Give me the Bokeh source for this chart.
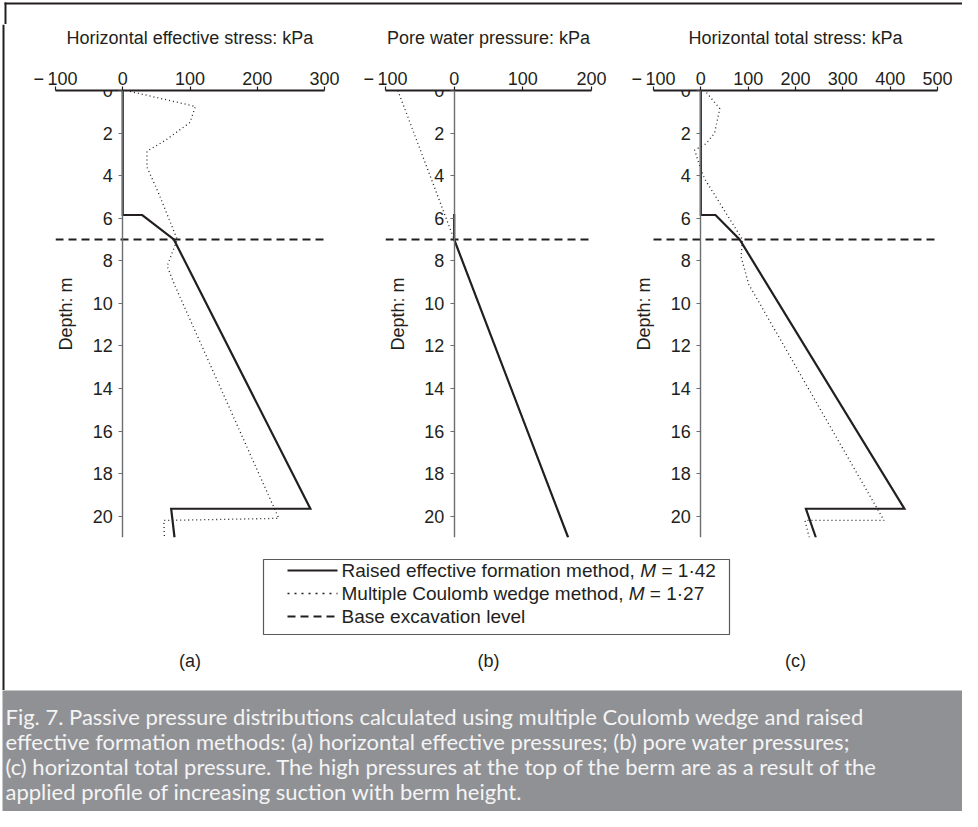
from bokeh.plotting import figure
from bokeh.models import Range1d, FixedTicker
from bokeh.layouts import row, column
from bokeh.core.properties import value
from bokeh.embed import file_html
from bokeh.resources import INLINE

INK = "#231f20"
AXIS_GREY = "#6d6e71"
LEG_GREY = "#58595b"
CAPTION_BG = "#909195"
CAPTION_INK = "#f4f4f4"
FONT = "Liberation Sans"
CAP_FONT = "Lato"

# ---------------- data ----------------
depth_ticks = [0, 2, 4, 6, 8, 10, 12, 14, 16, 18, 20]
depth_labels = ["0", "2", "4", "6", "8", "10", "12", "14", "16", "18", "20"]
depth_max = 21
excavation_depth = 7.0

a_title = "Horizontal effective stress: kPa"
a_xticks = [-100, 0, 100, 200, 300]
a_xlabels = ["\u2212\u2009100", "0", "100", "200", "300"]
a_raised_x = [0, 0, 29, 76, 279, 72, 77]
a_raised_depth = [0, 5.85, 5.85, 7.0, 19.65, 19.65, 21.0]
a_mcw_x = [5, 108, 100, 63, 36, 36, 53, 81, 66, 78, 232, 61, 62]
a_mcw_depth = [0.0, 0.75, 1.5, 2.35, 2.85, 3.6, 4.8, 7.0, 8.25, 9.2, 20.1, 20.2, 21.0]

b_title = "Pore water pressure: kPa"
b_xticks = [-100, 0, 100, 200]
b_xlabels = ["\u2212\u2009100", "0", "100", "200"]
b_raised_x = [0, 0, 166]
b_raised_depth = [5.8, 7.0, 21.0]
b_mcw_x = [-82, 0, 166]
b_mcw_depth = [0.0, 7.0, 21.0]

c_title = "Horizontal total stress: kPa"
c_xticks = [-100, 0, 100, 200, 300, 400, 500]
c_xlabels = ["\u2212\u2009100", "0", "100", "200", "300", "400", "500"]
c_raised_x = [0, 0, 31, 82, 430, 222, 243]
c_raised_depth = [0, 5.85, 5.85, 7.0, 19.65, 19.65, 21.0]
c_mcw_x = [12, 40, 29, 11, -13, -3, 8, 88, 85, 101, 387, 220, 229]
c_mcw_depth = [0.1, 0.85, 2.0, 2.5, 2.8, 3.5, 4.15, 7.0, 7.8, 9.1, 20.2, 20.2, 21.0]

panel_tags = ["(a)", "(b)", "(c)"]
legend_parts = [
    ("Raised effective formation method,", "M", "= 1\u00b742"),
    ("Multiple Coulomb wedge method,", "M", "= 1\u00b727"),
    ("Base excavation level", "", ""),
]
caption_lines = [
    "Fig. 7. Passive pressure distributions calculated using multiple Coulomb wedge and raised",
    "effective formation methods: (a) horizontal effective pressures; (b) pore water pressures;",
    "(c) horizontal total pressure. The high pressures at the top of the berm are as a result of the",
    "applied profile of increasing suction with berm height.",
]

# ---------------- layout constants (page pixels) ----------------
PAGE_X0, PAGE_X1 = 8, 970
HEAD_Y0, HEAD_Y1 = 8, 32
ROW_X0 = 28
FRAME_TOP_BORDER = 66
FRAME_H = 447
FRAME_BOTTOM_BORDER = 15
# (border_left, axis_width, border_right, frame_pad_each_side)
panel_geom = [
    (35, 269, 30, 0),
    (31, 206, 31, 0),
    (6, 284, 0, 25),
]

# Arial / Liberation Sans advance widths (1/1000 em)
AW = {" ": 278, ",": 278, "R": 722, "a": 556, "i": 222, "s": 500, "e": 556, "d": 556,
      "f": 278, "c": 500, "t": 278, "v": 500, "o": 556, "r": 333, "m": 833, "n": 556,
      "h": 556, "M": 833, "u": 556, "l": 222, "p": 556, "C": 722, "b": 556, "w": 722,
      "g": 556, "B": 667, "x": 500}


def tw(s, size):
    return sum(AW.get(ch, 556) for ch in s) * size / 1000.0


def bare(width, height, xr, yr, **kw):
    f = figure(width=width, height=height, x_range=Range1d(*xr), y_range=Range1d(*yr),
               min_border=0, x_axis_location=None, y_axis_location=None, title=None,
               toolbar_location=None, output_backend="svg", **kw)
    f.grid.visible = False
    f.outline_line_color = None
    return f


def make_panel(title, xticks, xlabels, rx, rd, mx, md, geom):
    bl, aw, br, pad = geom
    lo, hi = xticks[0], xticks[-1]
    per_px = (hi - lo) / aw
    p = figure(frame_width=aw + 2 * pad, frame_height=FRAME_H,
               min_border_left=bl, min_border_right=br,
               min_border_top=FRAME_TOP_BORDER, min_border_bottom=FRAME_BOTTOM_BORDER,
               x_range=Range1d(lo - pad * per_px, hi + pad * per_px),
               y_range=Range1d(depth_max, 0), title=None,
               x_axis_location="above", y_axis_location="left",
               toolbar_location=None, output_backend="svg")
    p.grid.visible = False
    p.outline_line_color = None
    p.background_fill_color = "white"
    p.border_fill_color = "white"

    xa = p.xaxis[0]
    xa.bounds = (lo, hi)
    xa.ticker = FixedTicker(ticks=xticks)
    xa.major_label_overrides = {t: l for t, l in zip(xticks, xlabels)}
    xa.axis_label = title
    xa.axis_label_text_font = FONT
    xa.axis_label_text_font_size = "18px"
    xa.axis_label_text_font_style = "normal"
    xa.axis_label_text_color = INK
    xa.axis_label_standoff = 18
    xa.major_label_text_font = FONT
    xa.major_label_text_font_size = "18px"
    xa.major_label_text_color = INK
    xa.major_label_standoff = -2
    xa.axis_line_color = INK
    xa.axis_line_width = 2
    xa.major_tick_line_color = INK
    xa.major_tick_line_width = 1.2
    xa.major_tick_in = 0
    xa.major_tick_out = 4
    xa.minor_tick_line_color = None

    ya = p.yaxis[0]
    ya.fixed_location = 0
    ya.ticker = FixedTicker(ticks=depth_ticks)
    ya.major_label_overrides = {t: l for t, l in zip(depth_ticks, depth_labels)}
    ya.axis_label = "Depth: m"
    ya.axis_label_text_font = FONT
    ya.axis_label_text_font_size = "18px"
    ya.axis_label_text_font_style = "normal"
    ya.axis_label_text_color = INK
    ya.axis_label_standoff = 13
    ya.major_label_text_font = FONT
    ya.major_label_text_font_size = "18px"
    ya.major_label_text_color = INK
    ya.major_label_standoff = 6
    ya.axis_line_color = AXIS_GREY
    ya.axis_line_width = 1.4
    ya.major_tick_line_color = AXIS_GREY
    ya.major_tick_line_width = 1.2
    ya.major_tick_in = 0
    ya.major_tick_out = 4
    ya.minor_tick_line_color = None

    # base excavation level across the axis extent
    p.line([lo, hi], [excavation_depth, excavation_depth], line_color=INK,
           line_width=2, line_dash="8 5")
    p.line(mx, md, line_color=INK, line_width=1.3, line_dash="1 3")
    p.line(rx, rd, line_color=INK, line_width=2.2, line_join="miter")
    return p


panels = [
    make_panel(a_title, a_xticks, a_xlabels, a_raised_x, a_raised_depth, a_mcw_x, a_mcw_depth, panel_geom[0]),
    make_panel(b_title, b_xticks, b_xlabels, b_raised_x, b_raised_depth, b_mcw_x, b_mcw_depth, panel_geom[1]),
    make_panel(c_title, c_xticks, c_xlabels, c_raised_x, c_raised_depth, c_mcw_x, c_mcw_depth, panel_geom[2]),
]

# panel centres in page pixels (for the (a)(b)(c) tags)
centres = []
x = ROW_X0
for bl, aw, br, pad in panel_geom:
    centres.append(x + bl + pad + aw / 2.0)
    x += bl + aw + 2 * pad + br

BOT_Y0, BOT_Y1 = 560, 698
CAP_Y0, CAP_Y1 = 698, 819

# ---------------- figure frame lines ----------------
header = bare(PAGE_X1 - PAGE_X0, HEAD_Y1 - HEAD_Y0, (PAGE_X0, PAGE_X1), (HEAD_Y1, HEAD_Y0))
header.quad(left=[10, 10], right=[PAGE_X1, 12], top=[10, 10], bottom=[12, HEAD_Y1],
            fill_color=INK, line_color=None)
left_strip = bare(ROW_X0 - PAGE_X0, BOT_Y1 - HEAD_Y1, (PAGE_X0, ROW_X0), (BOT_Y1, HEAD_Y1))
left_strip.quad(left=[10], right=[12], top=[HEAD_Y1], bottom=[BOT_Y1], fill_color=INK, line_color=None)

# ---------------- legend + tags strip ----------------
bot = bare(PAGE_X1 - ROW_X0, BOT_Y1 - BOT_Y0, (ROW_X0, PAGE_X1), (BOT_Y1, BOT_Y0))
bot.quad(left=[271], right=[737], top=[567], bottom=[642], fill_color=None,
         line_color=LEG_GREY, line_width=1.2)
row_y = [578, 601, 624]
samp_x = [295, 345]
bot.line(samp_x, [row_y[0]] * 2, line_color=INK, line_width=2.2)
bot.line(samp_x, [row_y[1]] * 2, line_color=INK, line_width=1.5, line_dash="2 5")
bot.line(samp_x, [row_y[2]] * 2, line_color=INK, line_width=2, line_dash="8 5")

LEG_SIZE = 19
tx0 = 349
for (pre, ital, post), yy in zip(legend_parts, row_y):
    bot.text(x=[tx0], y=[yy], text=[pre], text_font=value(FONT), text_font_size=f"{LEG_SIZE}px",
             text_color=INK, text_baseline="middle", text_align="left")
    if ital:
        mx_ = tx0 + tw(pre + " ", LEG_SIZE)
        bot.text(x=[mx_], y=[yy], text=[ital], text_font=value(FONT), text_font_size=f"{LEG_SIZE}px",
                 text_font_style="italic", text_color=INK, text_baseline="middle", text_align="left")
        px_ = mx_ + tw(ital, LEG_SIZE) + tw(" ", LEG_SIZE)
        bot.text(x=[px_], y=[yy], text=[post], text_font=value(FONT), text_font_size=f"{LEG_SIZE}px",
                 text_color=INK, text_baseline="middle", text_align="left")

bot.text(x=centres, y=[668] * 3, text=panel_tags, text_font=value(FONT), text_font_size="18px",
         text_color=INK, text_baseline="middle", text_align="center")

# ---------------- caption ----------------
cap = figure(width=PAGE_X1 - PAGE_X0, height=CAP_Y1 - CAP_Y0, x_range=Range1d(10, PAGE_X1),
             y_range=Range1d(CAP_Y1, CAP_Y0), min_border=0, min_border_left=2, title=None,
             x_axis_location=None, y_axis_location=None,
             toolbar_location=None, output_backend="svg")
cap.grid.visible = False
cap.outline_line_color = None
cap.background_fill_color = CAPTION_BG
cap.border_fill_color = "white"
cap.text(x=[13] * 4, y=[724, 749, 774, 799], text=caption_lines, text_font=value(CAP_FONT),
         text_font_size="22px", text_color=CAPTION_INK, text_baseline="middle", text_align="left")

layout = column(header, row(left_strip, column(row(*panels), bot)), cap)

open("out.html", "w").write(file_html(layout, INLINE))
